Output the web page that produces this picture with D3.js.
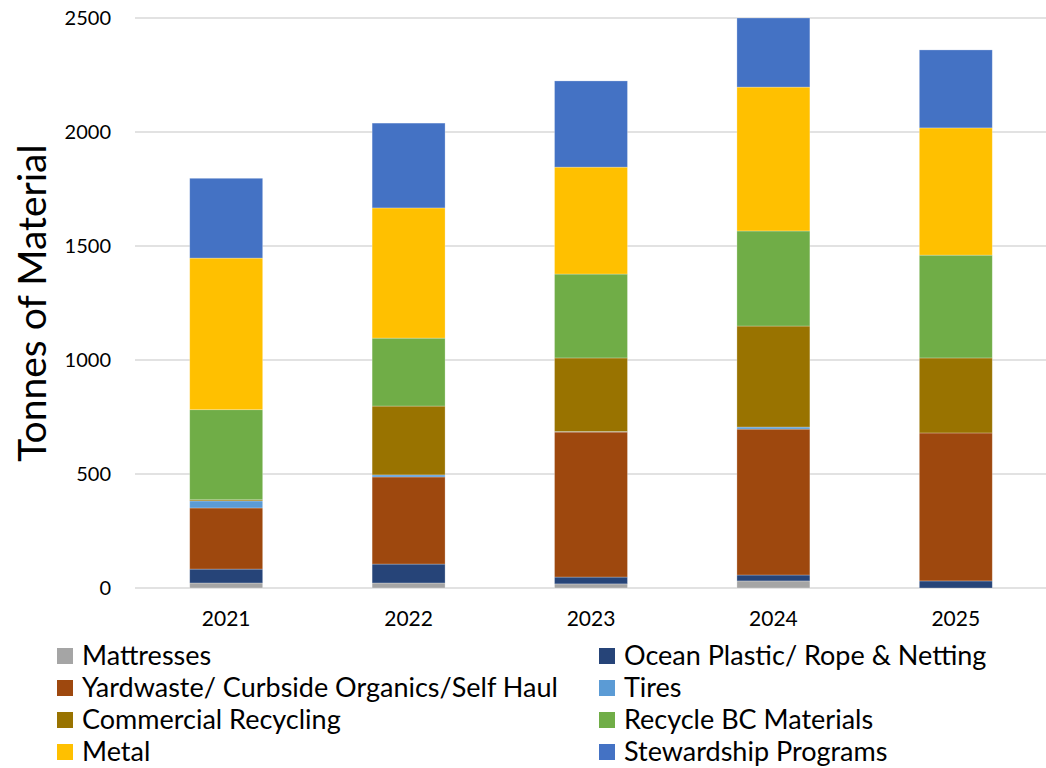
<!DOCTYPE html>
<html>
<head>
  <meta charset="UTF-8">
  <title>Tonnes of Material</title>
  <style>
    body { margin: 0; background: #fff; }
    svg { display: block; font-family: Lato, "Open Sans", sans-serif; }
  </style>
</head>
<body>
<svg></svg>
<script src="https://d3js.org/d3.v7.min.js"></script>
<script>

let width = 1046, height = 768;

// data
const years = ["2021", "2022", "2023", "2024", "2025"];
const seriesNames = ["Mattresses", "Ocean Plastic/ Rope & Netting",
  "Yardwaste/ Curbside Organics/Self Haul", "Tires", "Commercial Recycling",
  "Recycle BC Materials", "Metal", "Stewardship Programs"];
const mattresses  = [22, 22, 18, 31, 0];
const oceanPlastic = [61, 83, 30, 26, 31];
const yardwaste   = [268, 382, 636, 640, 649];
const tires       = [31, 9, 2, 9, 0];
const commercial  = [5, 302, 323, 443, 329];
const recycleBC   = [395, 298, 368, 417, 451];
const metal       = [665, 571, 469, 631, 558];
const stewardship = [350, 372, 378, 303, 342];
const yTicks = [0, 500, 1000, 1500, 2000, 2500];

const colors = ["#a5a5a5", "#264478", "#9e480e", "#5b9bd5",
                "#997300", "#70ad47", "#ffc000", "#4472c4"];
const allSeries = [mattresses, oceanPlastic, yardwaste, tires, commercial, recycleBC, metal, stewardship];

let rows = years.map((y, i) => {
  let r = {year: y};
  seriesNames.forEach((s, j) => r[s] = allSeries[j][i]);
  return r;
});

let svg = d3.select("svg").attr("width", width).attr("height", height);

let x = d3.scaleBand().domain(years).range([135, 1047]).paddingInner(0.6).paddingOuter(0.3);
let y = d3.scaleLinear().domain([0, 2500]).range([588, 18]);

// gridlines
svg.append("g").selectAll("line").data(yTicks).enter().append("line")
  .attr("x1", 135).attr("x2", 1047)
  .attr("y1", d => y(d)).attr("y2", d => y(d))
  .attr("stroke", "#d9d9d9").attr("stroke-width", 1.5);

// y tick labels
svg.append("g").selectAll("text").data(yTicks).enter().append("text")
  .attr("x", 111).attr("y", d => y(d)).attr("dy", "0.35em")
  .attr("text-anchor", "end").style("font-size", "20px").attr("fill", "#000")
  .text(d => d);

// stacked bars
let stack = d3.stack().keys(seriesNames)(rows);
svg.append("g").selectAll("g").data(stack).enter().append("g")
    .attr("fill", (d, i) => colors[i])
  .selectAll("rect").data(d => d).enter().append("rect")
    .attr("x", d => x(d.data.year))
    .attr("width", x.bandwidth())
    .attr("y", d => y(d[1]))
    .attr("height", d => y(d[0]) - y(d[1]))
    .attr("stroke", "rgba(255,255,255,0.35)").attr("stroke-width", 0.75);

// x labels
svg.append("g").selectAll("text").data(years).enter().append("text")
  .attr("x", d => x(d) + x.bandwidth() / 2).attr("y", 626)
  .attr("text-anchor", "middle").style("font-size", "21px")
  .text(d => d);

// y title
svg.append("text")
  .attr("transform", "translate(46,303) rotate(-90)")
  .attr("text-anchor", "middle").style("font-size", "39px")
  .text("Tonnes of Material");

// legend, two columns, row-wise
let leg = svg.append("g").selectAll("g").data(seriesNames).enter().append("g")
  .attr("transform", (d, i) => "translate(" + (i % 2 ? 599 : 57) + "," + (656 + Math.floor(i / 2) * 32) + ")");
leg.append("rect").attr("x", 0).attr("y", -8).attr("width", 16).attr("height", 16)
  .attr("fill", (d, i) => colors[i]);
leg.append("text").attr("x", 25).attr("dy", "0.35em")
  .style("font-size", "27px").text(d => d);

</script>
</body>
</html>
